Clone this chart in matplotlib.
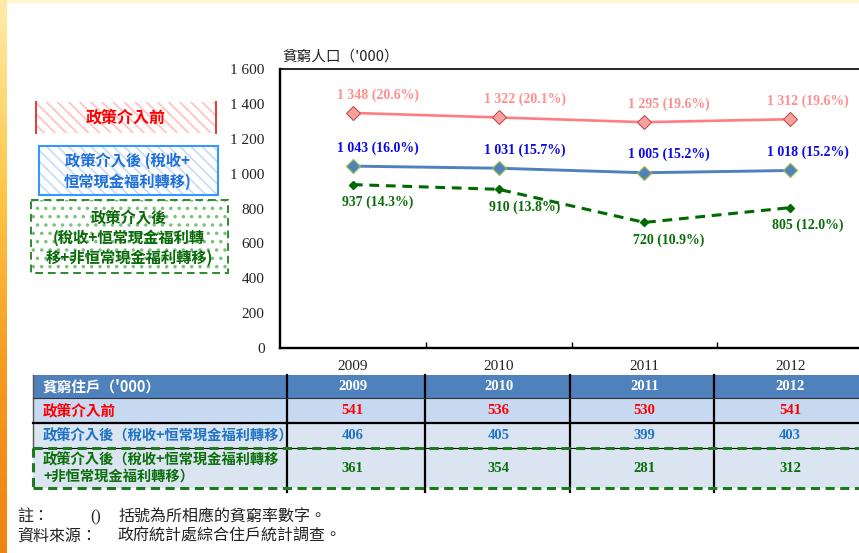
import matplotlib
matplotlib.use('Agg')
import matplotlib.pyplot as plt
import matplotlib.patches as mpatches
import matplotlib.transforms as mtransforms
from matplotlib.ticker import FuncFormatter
import numpy as np

# ---- data ----
years = ['2009', '2010', '2011', '2012']
pre_pop = [1348, 1322, 1295, 1312]
pre_rate = [20.6, 20.1, 19.6, 19.6]
rec_pop = [1043, 1031, 1005, 1018]
rec_rate = [16.0, 15.7, 15.2, 15.2]
all_pop = [937, 910, 720, 805]
all_rate = [14.3, 13.8, 10.9, 12.0]

pre_hh = [541, 536, 530, 541]
rec_hh = [406, 405, 399, 403]
all_hh = [361, 354, 281, 312]

y_title = "貧窮人口（'000）"
legend_pre = '政策介入前'
legend_rec = '政策介入後 (稅收+\n恒常現金福利轉移)'
legend_all = '政策介入後\n(稅收+恒常現金福利轉\n移+非恒常現金福利轉移)'
table_title = "貧窮住戶（'000）"
row_labels = ['政策介入前',
              '政策介入後（稅收+恒常現金福利轉移）',
              '政策介入後（稅收+恒常現金福利轉移\n+非恒常現金福利轉移）']
note_1 = ['註：', '()', '括號為所相應的貧窮率數字。']
note_2 = ['資料來源：', '政府統計處綜合住戶統計調查。']

# ---- style ----
W, H = 859, 553
CJK = ['Noto Sans CJK TC', 'DejaVu Sans']
SERIF = 'Liberation Serif'
RED_LINE, RED_TXT = '#FF7C80', '#FF8F8F'
BLUE_LINE, BLUE_TXT = '#4F81BD', '#0A0AE8'
GREEN_LINE, GREEN_TXT = '#006A00', '#0B6E0B'
plt.rcParams['hatch.linewidth'] = 1.3


def fmt_num(v):
    return f'{v:,}'.replace(',', ' ')


fig = plt.figure(figsize=(W / 100, H / 100), dpi=100)

# slide background stripes
grad_l = fig.add_axes([0, 0, 7 / W, 1])
grad_l.imshow(np.linspace(0, 1, 100).reshape(-1, 1), aspect='auto',
              cmap=matplotlib.colors.LinearSegmentedColormap.from_list(
                  'l', ['#FFEBA8', '#FFC848', '#F59A20', '#EE8410']))
grad_l.axis('off')
grad_t = fig.add_axes([7 / W, 1 - 4 / H, 1 - 7 / W, 4 / H])
grad_t.imshow(np.linspace(0, 1, 10).reshape(-1, 1), aspect='auto',
              cmap=matplotlib.colors.LinearSegmentedColormap.from_list(
                  't', ['#FFF3C4', '#FFFBEA']))
grad_t.axis('off')

# overlay in pixel coordinates
ov = fig.add_axes([0, 0, 1, 1], zorder=0)
ov.set_xlim(0, W)
ov.set_ylim(H, 0)
ov.axis('off')

# ---- line chart ----
ax = fig.add_axes([280 / W, (H - 348) / H, (863 - 280) / W, (348 - 69) / H], zorder=2)
ax.set_facecolor('none')
x = np.arange(len(years))
ax.plot(x, pre_pop, color=RED_LINE, lw=1.9, marker='D', ms=7, mfc='#F7A1A1',
        mec='#C0504D', mew=0.8, zorder=3)
ax.plot(x, rec_pop, color=BLUE_LINE, lw=2.1, marker='D', ms=7, mfc=BLUE_LINE,
        mec='#9BBB59', mew=0.9, zorder=3)
ax.plot(x, all_pop, color=GREEN_LINE, lw=2.2, dashes=(3.2, 2.2), marker='D', ms=4.5,
        mfc=GREEN_LINE, mec=GREEN_LINE, zorder=3)

label_dx = [25, 26, 24, 18]
for i in range(len(years)):
    ax.annotate(f'{fmt_num(pre_pop[i])} ({pre_rate[i]:.1f}%)', (x[i], pre_pop[i]),
                xytext=(label_dx[i], 18), textcoords='offset pixels', ha='center', va='center',
                color=RED_TXT, fontsize=10, fontweight='bold', family=SERIF)
    ax.annotate(f'{fmt_num(rec_pop[i])} ({rec_rate[i]:.1f}%)', (x[i], rec_pop[i]),
                xytext=(label_dx[i], 18), textcoords='offset pixels', ha='center', va='center',
                color=BLUE_TXT, fontsize=10, fontweight='bold', family=SERIF)
    ax.annotate(f'{fmt_num(all_pop[i])} ({all_rate[i]:.1f}%)', (x[i], all_pop[i]),
                xytext=(label_dx[i], -18), textcoords='offset pixels', ha='center', va='center',
                color=GREEN_TXT, fontsize=10, fontweight='bold', family=SERIF)

ax.set_xlim(-0.5, 3.5)
ax.set_ylim(0, 1600)
ax.set_yticks(range(0, 1601, 200))
ax.yaxis.set_major_formatter(FuncFormatter(lambda v, p: fmt_num(int(v))))
ax.set_xticks(x)
ax.set_xticklabels(years)
ax.set_xticks([0.5, 1.5, 2.5], minor=True)
ax.tick_params(axis='y', length=0, pad=11, labelsize=11)
ax.tick_params(axis='x', which='major', length=0, pad=9, labelsize=11)
ax.tick_params(axis='x', which='minor', direction='in', length=4, width=1)
for lab in ax.get_xticklabels() + ax.get_yticklabels():
    lab.set_family(SERIF)
    lab.set_color('#222222')
ax.spines['right'].set_visible(False)
ax.spines['top'].set_linewidth(1.2)
ax.spines['left'].set_linewidth(1.7)
ax.spines['bottom'].set_linewidth(1.7)

ov.text(282, 57, y_title, ha='left', va='center', fontsize=10.5, family=CJK,
        color='#222222')

# ---- legend boxes ----
ov.add_patch(mpatches.Rectangle((36, 102), 180, 31, facecolor='white', edgecolor='#FFC4C4',
                                hatch='\\\\\\', lw=0))
ov.plot([36, 36], [102, 133], color='#D24848', lw=1.5)
ov.plot([216, 216], [102, 133], color='#D24848', lw=1.5)
ov.text(126, 118, legend_pre, ha='center', va='center', fontsize=11.5, fontweight='bold',
        family=CJK, color='#FF0000')

ov.add_patch(mpatches.Rectangle((39, 146), 179, 49, facecolor='white', edgecolor='#C8DDF6',
                                hatch='\\\\\\', lw=0))
ov.add_patch(mpatches.Rectangle((39, 146), 179, 49, fill=False, edgecolor='#3399FF', lw=1.5))
ov.text(128, 171, legend_rec, ha='center', va='center', fontsize=11, fontweight='bold',
        family=CJK, color='#1F6FDC', linespacing=1.3)

ov.add_patch(mpatches.Rectangle((31, 200), 197, 73, facecolor='white', edgecolor='#7CC07C',
                                hatch='..', lw=0))
ov.add_patch(mpatches.Rectangle((31, 200), 197, 73, fill=False, edgecolor='#2E8B2E', lw=1.4,
                                linestyle=(0, (4, 2.5))))
ov.text(129, 238, legend_all, ha='center', va='center', fontsize=11, fontweight='bold',
        family=CJK, color='#0A6A0A', linespacing=1.25)

# ---- table ----
row_edges = [375, 398, 423, 448, 488]
row_colors = ['#4F81BD', '#C6D9F0', '#DBE5F1', '#DBE5F1']
for top, bot, c in zip(row_edges[:-1], row_edges[1:], row_colors):
    ov.add_patch(mpatches.Rectangle((33, top), W - 33 + 10, bot - top, facecolor=c, lw=0))

col_lines = [287, 425, 570, 714]
for cx in col_lines:
    ov.plot([cx, cx], [375, 492], color='black', lw=1.6, zorder=4)
ov.plot([33, 33], [375, 448], color='#555555', lw=1.0, zorder=4)
ov.plot([33, W], [398, 398], color='#333333', lw=0.8, zorder=4)
ov.plot([33, W], [423, 423], color='black', lw=1.6, zorder=4)
ov.plot([33, W], [448, 448], color='black', lw=0.8, zorder=4)
ov.plot([33, W], [448, 448], color='#1E7A1E', lw=2.2, dashes=(3, 1.8), zorder=5)
ov.plot([33, W], [488, 488], color='#1E7A1E', lw=2.2, dashes=(3, 1.8), zorder=5)
ov.plot([33, 33], [448, 488], color='#1E7A1E', lw=2.2, dashes=(3, 1.8), zorder=5)

row_mid = [(a + b) / 2 for a, b in zip(row_edges[:-1], row_edges[1:])]
ov.text(43, row_mid[0], table_title, ha='left', va='center', fontsize=10.5, fontweight='bold',
        family=CJK, color='white')
ov.text(43, row_mid[1], row_labels[0], ha='left', va='center', fontsize=10.5, fontweight='bold',
        family=CJK, color='#FF0000')
ov.text(43, row_mid[2], row_labels[1], ha='left', va='center', fontsize=10.3, fontweight='bold',
        family=CJK, color='#1F73C4')
ov.text(43, row_mid[3], row_labels[2], ha='left', va='center', fontsize=10.3, fontweight='bold',
        family=CJK, color='#0B6E0B', linespacing=1.25)

tr = mtransforms.blended_transform_factory(ax.transData, ov.transData)
for i in range(len(years)):
    ov.text(x[i], row_mid[0], years[i], transform=tr, ha='center', va='center', fontsize=10.5,
            fontweight='bold', family=SERIF, color='white')
    ov.text(x[i], row_mid[1], str(pre_hh[i]), transform=tr, ha='center', va='center',
            fontsize=10.5, fontweight='bold', family=SERIF, color='#FF0000')
    ov.text(x[i], row_mid[2], str(rec_hh[i]), transform=tr, ha='center', va='center',
            fontsize=10.5, fontweight='bold', family=SERIF, color='#1F73C4')
    ov.text(x[i], row_mid[3], str(all_hh[i]), transform=tr, ha='center', va='center',
            fontsize=10.5, fontweight='bold', family=SERIF, color='#0B6E0B')

# ---- notes ----
ov.text(17, 517, note_1[0], ha='left', va='center', fontsize=11.5, family=CJK, color='#222222')
ov.text(90, 517, note_1[1], ha='left', va='center', fontsize=11.5, family=SERIF, color='#222222')
ov.text(118, 517, note_1[2], ha='left', va='center', fontsize=11.5, family=CJK, color='#222222')
ov.text(17, 536, note_2[0], ha='left', va='center', fontsize=11.5, family=CJK, color='#222222')
ov.text(118, 536, note_2[1], ha='left', va='center', fontsize=11.5, family=CJK, color='#222222')

fig.savefig('out.png', dpi=100)
